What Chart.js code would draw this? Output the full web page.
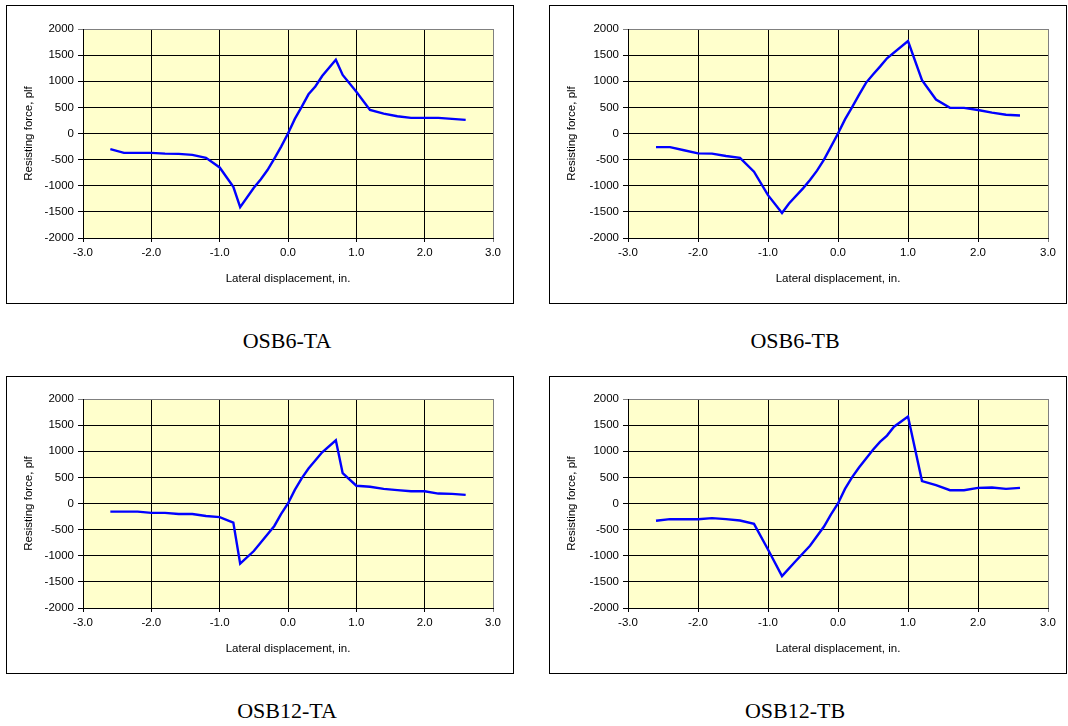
<!DOCTYPE html>
<html>
<head>
<meta charset="utf-8">
<script src="https://cdn.jsdelivr.net/npm/chart.js@4/dist/chart.umd.min.js"></script>
<style>
  html, body { margin: 0; padding: 0; background: #fff; }
  body { width: 1068px; height: 726px; position: relative; overflow: hidden; }
  .frame { position: absolute; box-sizing: border-box; border: 1px solid #000; }
  .frame canvas { position: absolute; left: 0; top: 0; }
  .caption { position: absolute; width: 300px; text-align: center;
             font-family: "Liberation Serif", "Times New Roman", serif; font-size: 22px;
             color: #000; line-height: 1; }
</style>
</head>
<body>
<div id="root"></div>
<script>
// Lateral displacement (in.) and resisting force (plf) for each specimen
const dispOSB6TA = [-2.6,-2.4,-2.2,-2.0,-1.8,-1.6,-1.4,-1.2,-1.0,-0.8,-0.7,-0.5,-0.4,-0.3,-0.2,-0.1,0,0.1,0.2,0.3,0.4,0.5,0.7,0.8,1.0,1.2,1.4,1.6,1.8,2.0,2.2,2.4,2.6];
const forceOSB6TA = [-300,-370,-370,-370,-385,-390,-410,-465,-650,-1020,-1410,-1040,-880,-700,-480,-250,0,280,510,750,900,1100,1410,1120,800,450,380,330,300,300,300,280,260];

const dispOSB6TB = [-2.6,-2.4,-2.2,-2.0,-1.8,-1.6,-1.4,-1.2,-1.0,-0.8,-0.7,-0.5,-0.4,-0.3,-0.2,-0.1,0,0.1,0.2,0.3,0.4,0.5,0.6,0.7,1.0,1.2,1.4,1.6,1.8,2.0,2.2,2.4,2.6];
const forceOSB6TB = [-260,-260,-320,-380,-385,-430,-465,-730,-1180,-1520,-1340,-1050,-890,-710,-500,-250,0,270,500,740,970,1130,1280,1440,1770,1020,650,490,490,450,400,360,345];

const dispOSB12TA = [-2.6,-2.4,-2.2,-2.0,-1.8,-1.6,-1.4,-1.2,-1.0,-0.8,-0.7,-0.5,-0.2,-0.1,0,0.1,0.2,0.3,0.5,0.7,0.8,1.0,1.2,1.4,1.6,1.8,2.0,2.2,2.4,2.6];
const forceOSB12TA = [-155,-155,-155,-180,-180,-200,-200,-240,-260,-365,-1150,-910,-430,-200,0,260,480,670,980,1210,580,340,320,280,255,235,235,190,185,165];

const dispOSB12TB = [-2.6,-2.4,-2.2,-2.0,-1.8,-1.6,-1.4,-1.2,-1.0,-0.8,-0.6,-0.4,-0.2,-0.1,0,0.1,0.2,0.3,0.5,0.6,0.7,0.8,1.0,1.2,1.4,1.6,1.8,2.0,2.2,2.4,2.6];
const forceOSB12TB = [-330,-300,-300,-300,-280,-300,-325,-390,-880,-1390,-1095,-810,-440,-210,0,280,500,690,1030,1180,1300,1470,1665,430,350,255,255,300,305,280,300];

// Shared axis settings
const xTicks = [-3, -2, -1, 0, 1, 2, 3];
const yTicks = [-2000, -1500, -1000, -500, 0, 500, 1000, 1500, 2000];
const xTitle = 'Lateral displacement, in.';
const yTitle = 'Resisting force, plf';

// Specimen names
const captions = ['OSB6-TA', 'OSB6-TB', 'OSB12-TA', 'OSB12-TB'];

const panels = [
  { name: captions[0], x: dispOSB6TA,  y: forceOSB6TA,
    box: { l: 6,   t: 5,   r: 514,  b: 304 }, plot: { l: 82,  t: 28,  r: 492,  b: 237 }, cap: { x: 287, y: 341 } },
  { name: captions[1], x: dispOSB6TB,  y: forceOSB6TB,
    box: { l: 549, t: 5,   r: 1067, b: 304 }, plot: { l: 627, t: 28,  r: 1047, b: 237 }, cap: { x: 795, y: 341 } },
  { name: captions[2], x: dispOSB12TA, y: forceOSB12TA,
    box: { l: 6,   t: 376, r: 514,  b: 674 }, plot: { l: 82,  t: 398, r: 492,  b: 607 }, cap: { x: 287, y: 711 } },
  { name: captions[3], x: dispOSB12TB, y: forceOSB12TB,
    box: { l: 549, t: 376, r: 1067, b: 674 }, plot: { l: 627, t: 398, r: 1047, b: 607 }, cap: { x: 795, y: 711 } }
];

// Pale yellow plot background
const plotArea = {
  id: 'plotArea',
  beforeDraw(chart) {
    const a = chart.chartArea, ctx = chart.ctx;
    ctx.save();
    ctx.fillStyle = '#FFFFCC';
    ctx.fillRect(a.left, a.top, a.right - a.left, a.bottom - a.top);
    ctx.restore();
  }
};

const root = document.getElementById('root');
const tickFont = { family: 'Liberation Sans, Arial, sans-serif', size: 11.5 };

panels.forEach(p => {
  const w = p.box.r - p.box.l, h = p.box.b - p.box.t;
  const frame = document.createElement('div');
  frame.className = 'frame';
  frame.style.left = p.box.l + 'px';
  frame.style.top = p.box.t + 'px';
  frame.style.width = w + 'px';
  frame.style.height = h + 'px';
  const canvas = document.createElement('canvas');
  canvas.width = w; canvas.height = h;
  canvas.style.width = w + 'px'; canvas.style.height = h + 'px';
  frame.appendChild(canvas);
  root.appendChild(frame);

  const cap = document.createElement('div');
  cap.className = 'caption';
  cap.textContent = p.name;
  cap.style.left = (p.cap.x - 150) + 'px';
  cap.style.top = (p.cap.y - 11) + 'px';
  root.appendChild(cap);

  const leftW = p.plot.l - p.box.l;
  const bottomH = p.box.b - p.plot.b;

  new Chart(canvas, {
    type: 'line',
    data: {
      datasets: [{
        data: p.x.map((v, i) => ({ x: v, y: p.y[i] })),
        borderColor: '#0000FF',
        borderWidth: 2.4,
        pointRadius: 0,
        tension: 0,
        fill: false
      }]
    },
    options: {
      responsive: false,
      animation: false,
      devicePixelRatio: 1,
      layout: { autoPadding: false, padding: { top: p.plot.t - p.box.t, right: p.box.r - p.plot.r, left: 0, bottom: 0 } },
      plugins: { legend: { display: false }, tooltip: { enabled: false } },
      scales: {
        x: {
          type: 'linear', min: -3, max: 3,
          afterBuildTicks(s) { s.ticks = xTicks.map(v => ({ value: v })); },
          afterFit(s) { s.height = bottomH; },
          ticks: { color: '#000', font: tickFont, maxRotation: 0, padding: 4,
                   callback: v => v.toFixed(1) },
          grid: { color: c => (c.tick && c.tick.value === 3) ? '#808080' : '#000', lineWidth: 1, tickLength: 4 },
          border: { display: true, color: '#000', width: 1 },
          title: { display: true, text: xTitle, color: '#000', font: tickFont, padding: { top: 0, bottom: 19 } }
        },
        y: {
          type: 'linear', min: -2000, max: 2000,
          afterBuildTicks(s) { s.ticks = yTicks.map(v => ({ value: v })); },
          afterFit(s) { s.width = leftW; },
          ticks: { color: '#000', font: tickFont, padding: 4, callback: v => String(v) },
          grid: { color: c => (c.tick && c.tick.value === 2000) ? '#808080' : '#000', lineWidth: 1, tickLength: 5 },
          border: { display: true, color: '#000', width: 1 },
          title: { display: true, text: yTitle, color: '#000', font: tickFont, padding: { top: 15, bottom: 0 } }
        }
      }
    },
    plugins: [plotArea]
  });
});
</script>
</body>
</html>
